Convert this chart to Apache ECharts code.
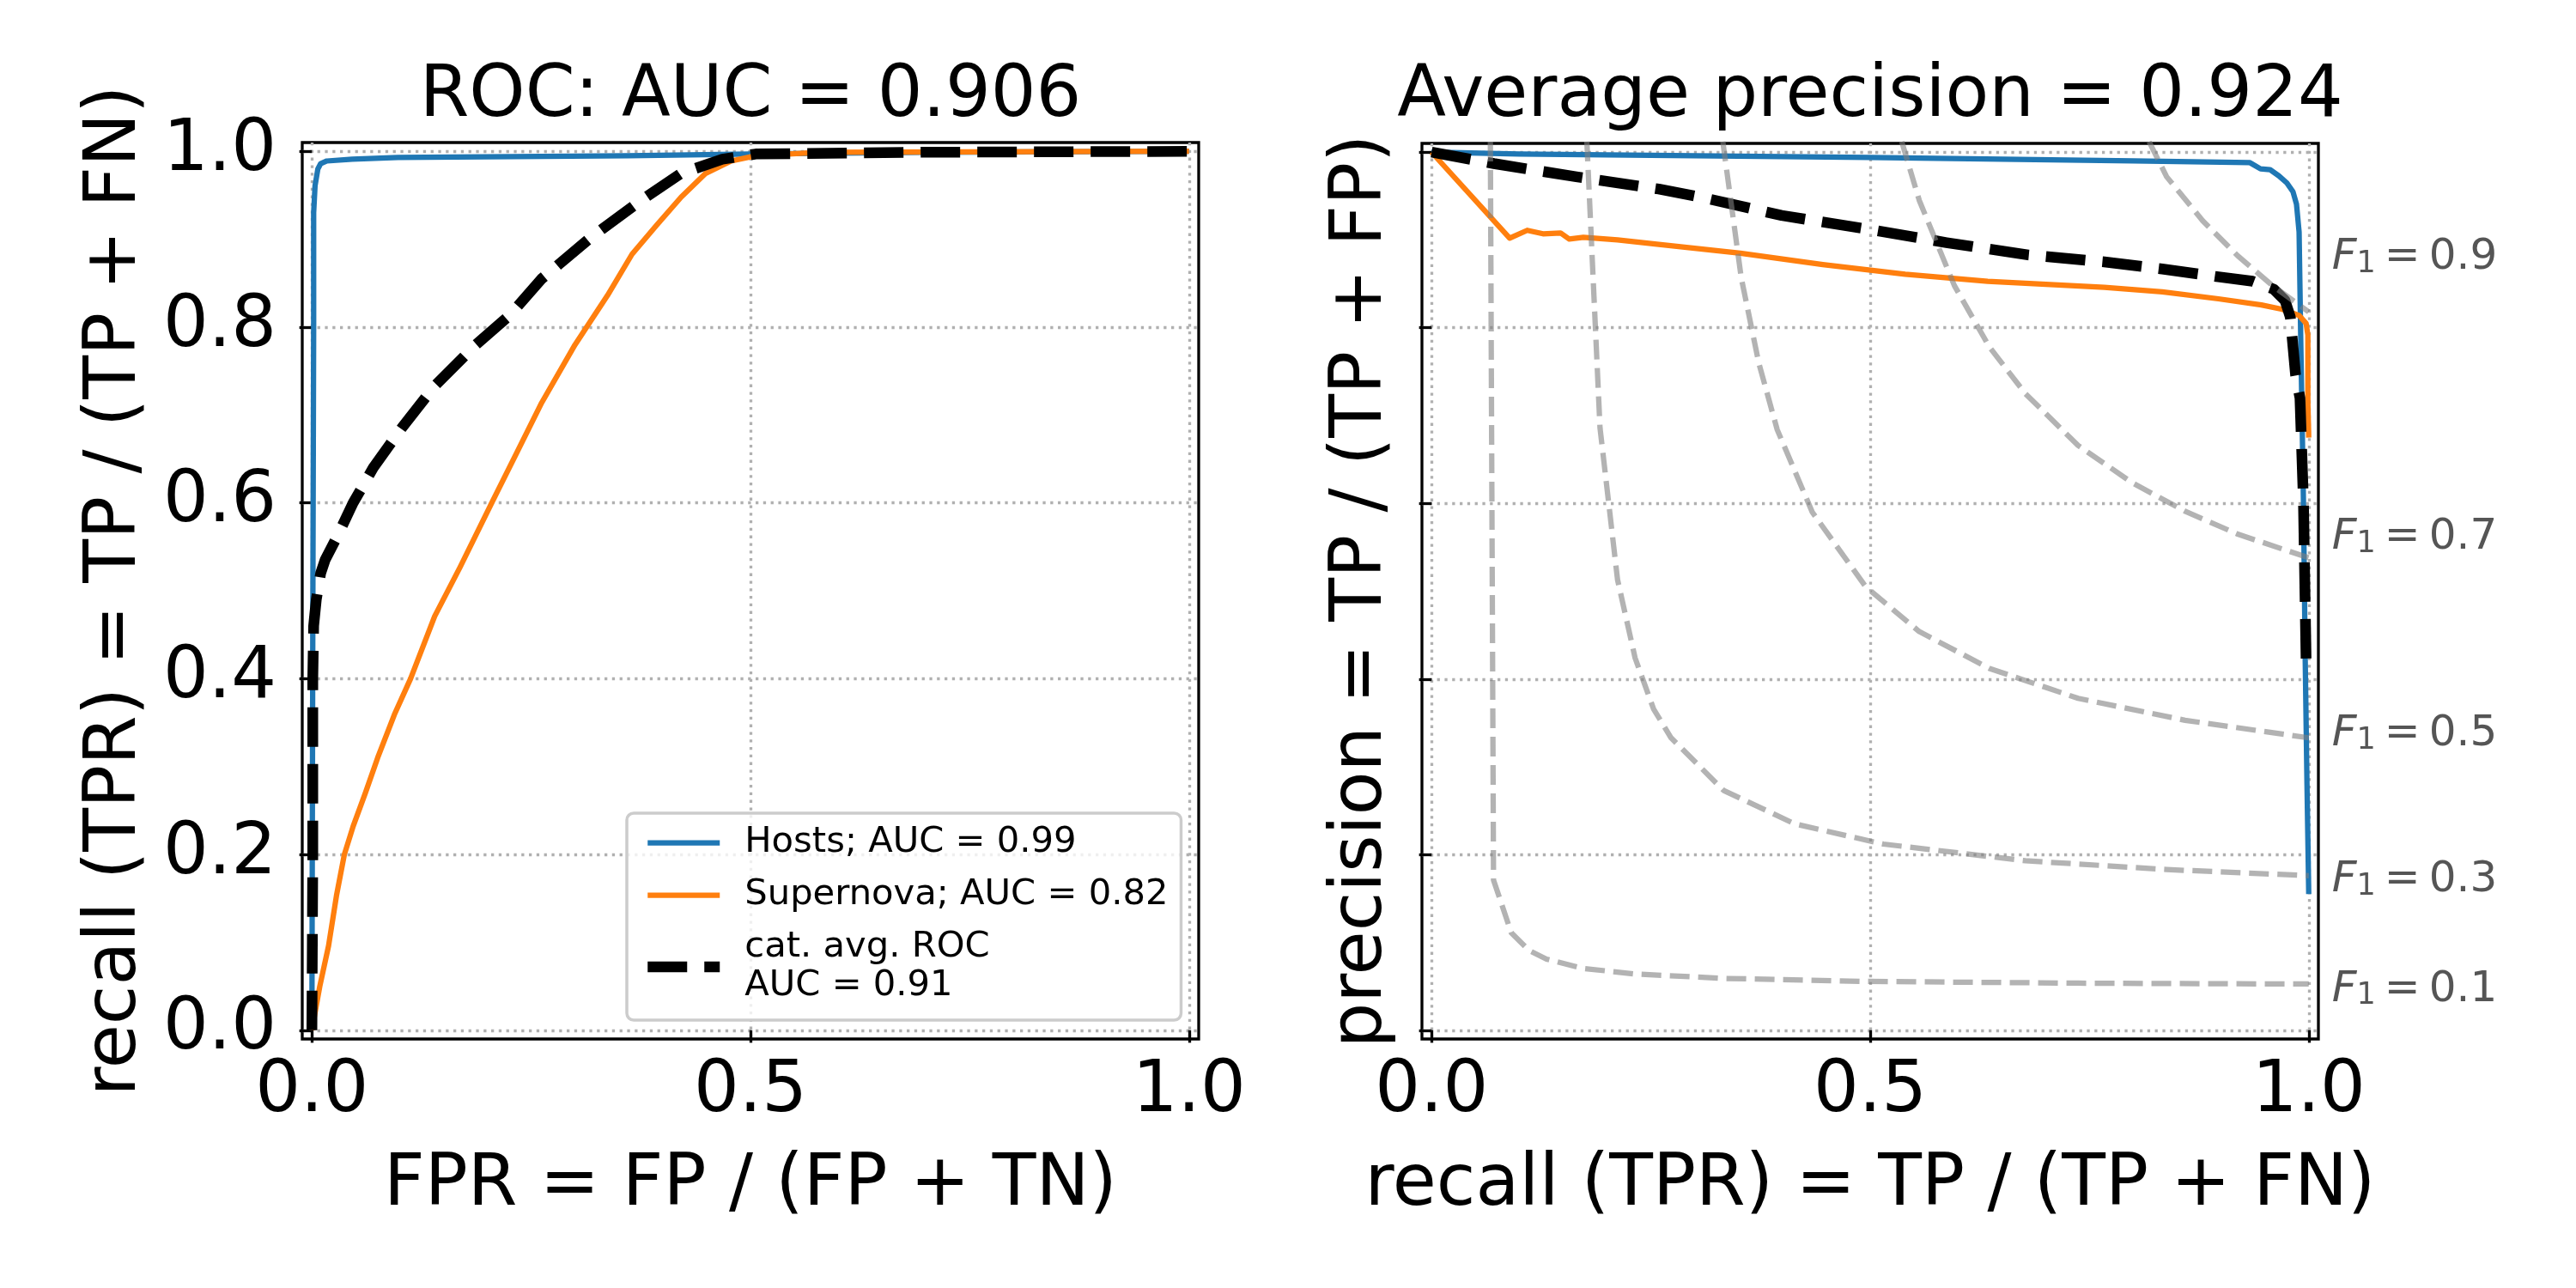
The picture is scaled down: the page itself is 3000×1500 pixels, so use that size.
<!DOCTYPE html>
<html>
<head>
<meta charset="utf-8">
<script src="https://cdn.jsdelivr.net/npm/echarts@6.0.0/dist/echarts.min.js"></script>
<style>
  html, body { margin: 0; padding: 0; background: #fff; }
  #main { width: 3000px; height: 1500px; }
</style>
</head>
<body>
<div id="main"></div>
<script>
// ROC curves, [FPR, TPR]
var hostsRoc = [[0,0],[0.001,0.45],[0.002,0.8],[0.002,0.93],[0.0036,0.961],[0.0068,0.98],[0.01,0.986],[0.017,0.989],[0.046,0.991],[0.098,0.993],[0.36,0.995],[0.5,0.997],[0.7,0.999],[1,1]];
var supernovaRoc = [[0,0],[0.009,0.05],[0.019,0.096],[0.028,0.153],[0.037,0.2],[0.047,0.232],[0.061,0.27],[0.075,0.31],[0.094,0.359],[0.1125,0.4],[0.14,0.471],[0.169,0.527],[0.206,0.602],[0.234,0.658],[0.262,0.714],[0.3,0.78],[0.337,0.836],[0.365,0.883],[0.393,0.916],[0.421,0.948],[0.449,0.975],[0.478,0.989],[0.506,0.995],[0.58,0.999],[1,1]];
var catAvgRoc = [[0,0],[0.001,0.2],[0.001,0.4],[0.002,0.46],[0.005,0.49],[0.01,0.52],[0.015,0.535],[0.028,0.56],[0.047,0.6],[0.07,0.64],[0.103,0.686],[0.14,0.733],[0.187,0.78],[0.225,0.813],[0.262,0.855],[0.318,0.902],[0.375,0.944],[0.421,0.975],[0.468,0.991],[0.506,0.997],[0.7,0.999],[1,1]];

// precision-recall curves, [recall, precision]
var hostsPr = [[0,1],[0.1,0.998],[0.5,0.994],[0.8,0.99],[0.933,0.988],[0.945,0.981],[0.956,0.98],[0.966,0.973],[0.975,0.965],[0.982,0.955],[0.986,0.941],[0.989,0.909],[0.99,0.844],[0.991,0.779],[0.992,0.72],[0.994,0.6],[0.996,0.42],[0.998,0.28],[1,0.155]];
var supernovaPr = [[0,1],[0.089,0.902],[0.109,0.911],[0.127,0.907],[0.147,0.908],[0.157,0.901],[0.173,0.903],[0.212,0.9],[0.259,0.895],[0.352,0.885],[0.446,0.872],[0.54,0.861],[0.634,0.853],[0.767,0.846],[0.833,0.841],[0.897,0.833],[0.946,0.826],[0.97,0.821],[0.989,0.814],[0.997,0.805],[0.999,0.792],[0.999,0.714],[1,0.675]];
var catAvgPr = [[0,1],[0.071,0.987],[0.165,0.972],[0.259,0.958],[0.306,0.949],[0.399,0.928],[0.493,0.913],[0.587,0.897],[0.68,0.883],[0.767,0.875],[0.833,0.867],[0.897,0.858],[0.936,0.853],[0.96,0.844],[0.973,0.831],[0.979,0.812],[0.982,0.779],[0.985,0.746],[0.99,0.72],[0.994,0.6],[0.997,0.42]];

// iso-F1 curves
var f1Values = [0.1, 0.3, 0.5, 0.7, 0.9];
var f1Curves = [
  [[0.067,1.012],[0.0706,0.171],[0.0908,0.111],[0.111,0.091],[0.131,0.081],[0.172,0.0705],[0.232,0.064],[0.333,0.059],[0.495,0.0556],[0.737,0.0536],[1,0.0526]],
  [[0.177,1.012],[0.192,0.686],[0.212,0.513],[0.232,0.424],[0.253,0.366],[0.273,0.333],[0.333,0.273],[0.414,0.235],[0.515,0.212],[0.677,0.193],[0.838,0.183],[1,0.176]],
  [[0.332,1.012],[0.353,0.857],[0.373,0.76],[0.394,0.684],[0.434,0.59],[0.495,0.505],[0.556,0.454],[0.636,0.412],[0.737,0.378],[0.859,0.353],[1,0.333]],
  [[0.536,1.012],[0.556,0.945],[0.596,0.848],[0.636,0.778],[0.677,0.725],[0.737,0.666],[0.798,0.624],[0.859,0.591],[0.919,0.565],[1,0.538]],
  [[0.818,1.012],[0.838,0.972],[0.879,0.922],[0.919,0.882],[0.96,0.847],[1,0.818]]
];
var f1LabelY = [0.046, 0.171, 0.337, 0.561, 0.88];

var xTicksRoc = [0, 0.5, 1];
var yTicks = [0, 0.2, 0.4, 0.6, 0.8, 1];

var rocNames = ['Hosts; AUC = 0.99', 'Supernova; AUC = 0.82', 'cat. avg. ROC\nAUC = 0.91'];
var titles = ['ROC: AUC = 0.906', 'Average precision = 0.924'];

var FONT = 'DejaVu Sans';
var BLUE = '#1f77b4', ORANGE = '#ff7f0e';
var LW = 6.25;

var myChart = echarts.init(document.getElementById('main'));

function fmt(v) {
    return Math.abs(v * 10 - Math.round(v * 10)) < 1e-6 ? v.toFixed(1) : '';
}

function makeX(idx, name) {
    return {
        type: 'value', gridIndex: idx, min: -0.011, max: 1.011, splitNumber: 2,
        name: name, nameLocation: 'middle', nameGap: 130,
        nameTextStyle: { fontFamily: FONT, fontSize: 83, color: '#000' },
        axisLine: { show: false },
        axisTick: { show: true, inside: false, length: 14.6, customValues: xTicksRoc,
                    lineStyle: { color: '#000', width: 3.3 } },
        axisLabel: { show: true, customValues: xTicksRoc, formatter: fmt, margin: 21,
                     fontFamily: FONT, fontSize: 83, color: '#000', hideOverlap: false },
        splitLine: { show: true, lineStyle: { color: '#b0b0b0', width: 3.3, type: [3.3, 5.5] } }
    };
}

function makeY(idx, name, gap, labels) {
    return {
        type: 'value', gridIndex: idx, min: -0.01, max: 1.01, splitNumber: 5,
        name: name, nameLocation: 'middle', nameGap: gap,
        nameTextStyle: { fontFamily: FONT, fontSize: 83, color: '#000' },
        axisLine: { show: false },
        axisTick: { show: true, inside: false, length: 14.6, customValues: yTicks,
                    lineStyle: { color: '#000', width: 3.3 } },
        axisLabel: { show: labels, customValues: yTicks, formatter: fmt, margin: 30,
                     fontFamily: FONT, fontSize: 83, color: '#000', hideOverlap: false },
        splitLine: { show: true, lineStyle: { color: '#b0b0b0', width: 3.3, type: [3.3, 5.5] } }
    };
}

function curve(name, data, gi, color, width, dash) {
    return {
        name: name, type: 'line', xAxisIndex: gi, yAxisIndex: gi, data: data,
        symbol: 'none', smooth: false, silent: true, clip: true,
        lineStyle: { color: color, width: width, type: dash || 'solid', cap: 'butt', join: 'round' },
        itemStyle: { color: color }
    };
}

var series = [
    curve(rocNames[0], hostsRoc, 0, BLUE, LW),
    curve(rocNames[1], supernovaRoc, 0, ORANGE, LW),
    curve(rocNames[2], catAvgRoc, 0, '#000', 12.5, [46, 20]),
    curve('Hosts PR', hostsPr, 1, BLUE, LW),
    curve('Supernova PR', supernovaPr, 1, ORANGE, LW),
    curve('cat. avg. PR', catAvgPr, 1, '#000', 12.5, [46, 20])
];
f1Curves.forEach(function (c, i) {
    series.push(curve('F1 ' + f1Values[i], c, 1, 'rgba(128,128,128,0.6)', LW, [23, 10]));
});
series.push({
    name: 'F1 labels', type: 'scatter', xAxisIndex: 1, yAxisIndex: 1, clip: false, silent: true,
    symbolSize: 1, itemStyle: { color: 'rgba(0,0,0,0)' },
    data: f1Values.map(function (f, i) { return [1.026, f1LabelY[i], f]; }),
    label: {
        show: true, position: 'right', distance: 0,
        formatter: function (p) { return '{f|F}{s|1}{e|\u2009=\u20090.' + Math.round(p.value[2] * 10) + '}'; },
        rich: {
            f: { fontFamily: FONT, fontStyle: 'italic', fontSize: 50, color: '#2b2b2b' },
            s: { fontFamily: FONT, fontSize: 35, color: '#2b2b2b', verticalAlign: 'bottom', lineHeight: 26 },
            e: { fontFamily: FONT, fontSize: 50, color: '#2b2b2b' }
        }
    }
});

option = {
    backgroundColor: '#fff',
    animation: false,
    textStyle: { fontFamily: FONT },
    graphic: [
        { type: 'text', x: 874, y: 113, silent: true,
          style: { text: titles[0], font: '83px "DejaVu Sans"', fill: '#000', align: 'center', verticalAlign: 'middle' } },
        { type: 'text', x: 2178, y: 113, silent: true,
          style: { text: titles[1], font: '83px "DejaVu Sans"', fill: '#000', align: 'center', verticalAlign: 'middle' } }
    ],
    grid: [
        { left: 352, top: 166, width: 1044, height: 1044, show: true, borderColor: '#000', borderWidth: 3.3,
          backgroundColor: '#fff', containLabel: false, outerBoundsMode: 'none' },
        { left: 1656, top: 167, width: 1044, height: 1043, show: true, borderColor: '#000', borderWidth: 3.3,
          backgroundColor: '#fff', containLabel: false, outerBoundsMode: 'none' }
    ],
    xAxis: [
        makeX(0, 'FPR = FP / (FP + TN)'),
        makeX(1, 'recall (TPR) = TP / (TP + FN)')
    ],
    yAxis: [
        makeY(0, 'recall (TPR) = TP / (TP + FN)', 175, true),
        makeY(1, 'precision = TP / (TP + FP)', 28, false)
    ],
    legend: {
        show: true, orient: 'vertical', left: 730, top: 947,
        data: rocNames, selectedMode: false,
        itemWidth: 84, itemHeight: 14, itemGap: 16,
        padding: [12, 15, 17, 18],
        backgroundColor: 'rgba(255,255,255,0.8)', borderColor: '#cccccc', borderWidth: 3.5, borderRadius: 8,
        lineStyle: { width: 'inherit', type: 'inherit', cap: 'butt' },
        itemStyle: { opacity: 0, borderWidth: 0 },
        textStyle: { fontFamily: FONT, fontSize: 41.7, color: '#000', lineHeight: 45, padding: [0, 0, 0, 24] }
    },
    series: series
};

myChart.setOption(option);
</script>
</body>
</html>
